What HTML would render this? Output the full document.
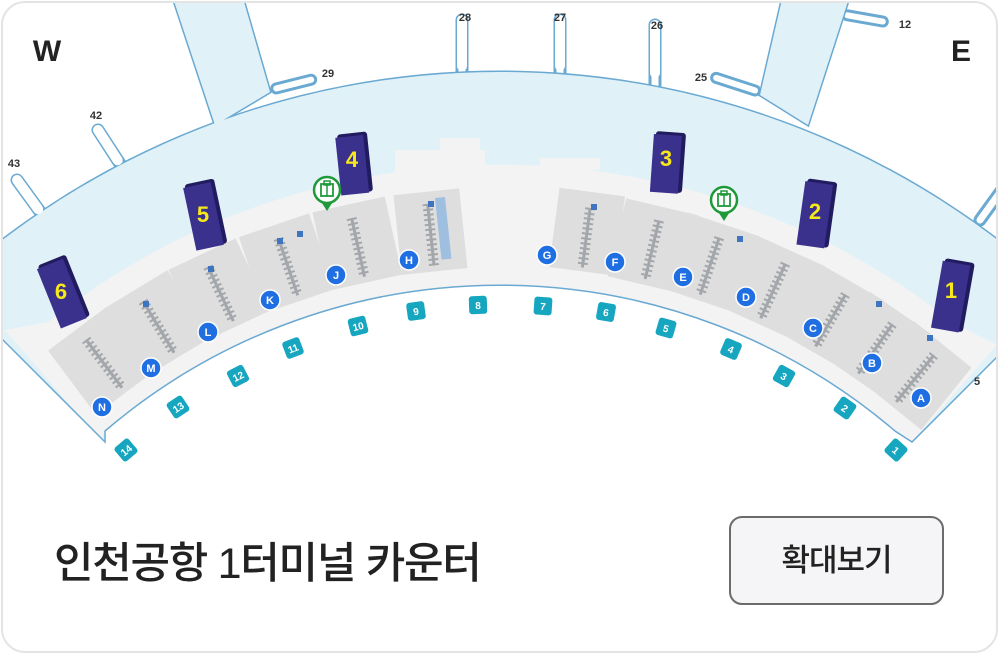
<!DOCTYPE html>
<html><head><meta charset="utf-8">
<style>
html,body{margin:0;padding:0;background:#fff;}
body{width:999px;height:654px;overflow:hidden;position:relative;font-family:"Liberation Sans","Noto Sans CJK KR",sans-serif;}
.card{position:absolute;left:1px;top:1px;width:997px;height:652px;box-sizing:border-box;border:2px solid #e4e4e4;border-radius:24px;overflow:hidden;background:#fff;}
svg{position:absolute;left:-3px;top:-3px;}
.title{position:absolute;left:51px;top:531px;font-size:43px;line-height:60px;font-weight:500;color:#222;font-family:"Liberation Sans","Noto Sans CJK KR",sans-serif;letter-spacing:-1.3px;white-space:nowrap;}
.btn{position:absolute;left:726px;top:513px;width:215px;height:89px;box-sizing:border-box;border:2px solid #6b6b6b;border-radius:13px;background:#f5f5f7;font-size:31px;font-weight:500;color:#222;text-align:center;line-height:85px;font-family:"Liberation Sans","Noto Sans CJK KR",sans-serif;letter-spacing:-1px;}
</style></head><body>
<div class="card">
<svg width="999" height="654" viewBox="0 0 999 654" xmlns="http://www.w3.org/2000/svg">
<defs>
<clipPath id="map"><rect x="0" y="0" width="999" height="464"/></clipPath>
</defs>
<g clip-path="url(#map)">
<g fill="none" stroke="#6aa9d2" stroke-width="3">
<circle cx="500" cy="893" r="821"/>
<polygon points="172,-5 242,-5 270,92 215,125"/>
<polygon points="783,-5 850,-5 808,125 760,95"/>
<rect x="457" y="15" width="10" height="70" rx="5"/>
<rect x="555" y="15" width="10" height="70" rx="5"/>
<rect x="650" y="20" width="10" height="70" rx="5"/>
<rect x="272" y="85" width="45" height="9" rx="4.5" transform="rotate(-14 272 90)"/>
<rect x="712" y="72" width="50" height="9" rx="4.5" transform="rotate(18 712 76)"/>
<rect x="843" y="10" width="45" height="9" rx="4.5" transform="rotate(10 843 14)"/>
<rect x="93" y="125" width="10" height="60" rx="5" transform="rotate(-33 98 130)"/>
<rect x="12" y="175" width="10" height="60" rx="5" transform="rotate(-36 17 180)"/>
<rect x="975" y="165" width="10" height="60" rx="5" transform="rotate(36 980 220)"/>
</g>
<g fill="#e0f1f8">
<circle cx="500" cy="893" r="821"/>
<polygon points="172,-5 242,-5 270,92 215,125"/>
<polygon points="783,-5 850,-5 808,125 760,95"/>
</g>
<g fill="#fff">
<rect x="457" y="15" width="10" height="56" rx="5"/>
<rect x="555" y="15" width="10" height="56" rx="5"/>
<rect x="650" y="20" width="10" height="58" rx="5"/>
<rect x="93" y="125" width="10" height="46" rx="5" transform="rotate(-33 98 130)"/>
<rect x="12" y="175" width="10" height="46" rx="5" transform="rotate(-36 17 180)"/>
</g>
<path d="M 48 322 A 728 728 0 0 1 952 322 L 997 345 L 912 442 L 895 431 A 608 608 0 0 0 105 431 L 100 440 L 5 330 Z" fill="#f3f3f3"/>
<g fill="#f3f3f3">
<rect x="395" y="150" width="90" height="30"/>
<rect x="440" y="138" width="40" height="20"/>
<rect x="540" y="158" width="60" height="12"/>
</g>
<path d="M -5 332 L 105 442 L 105 431 A 608 608 0 0 1 895 431 L 912 442 L 1004 350 L 1004 480 L -5 480 Z" fill="#fff" stroke="#6aa9d2" stroke-width="1.5"/>
<g fill="#dedede">
<g transform="rotate(-36.8 500 893)"><rect x="463" y="188" width="74" height="80"/></g>
<g transform="rotate(-31.1 500 893)"><rect x="463" y="188" width="74" height="80"/></g>
<g transform="rotate(-25 500 893)"><rect x="463" y="188" width="74" height="80"/></g>
<g transform="rotate(-18.7 500 893)"><rect x="463" y="188" width="74" height="80"/></g>
<g transform="rotate(-12.4 500 893)"><rect x="463" y="188" width="74" height="80"/></g>
<g transform="rotate(-6 500 893)"><rect x="467" y="188" width="66" height="80"/></g>
<g transform="rotate(7.5 500 893)"><rect x="467" y="186" width="66" height="80"/></g>
<g transform="rotate(13.3 500 893)"><rect x="463" y="188" width="74" height="80"/></g>
<g transform="rotate(18.5 500 893)"><rect x="463" y="188" width="74" height="80"/></g>
<g transform="rotate(24.4 500 893)"><rect x="463" y="188" width="74" height="80"/></g>
<g transform="rotate(30 500 893)"><rect x="463" y="188" width="74" height="80"/></g>
<g transform="rotate(34.6 500 893)"><rect x="463" y="188" width="74" height="80"/></g>
<g transform="rotate(38.9 500 893)"><rect x="463" y="188" width="74" height="80"/></g>
</g>
<g stroke="#a3a6aa">
<g transform="rotate(-36.8 500 893)"><line x1="500" y1="202" x2="500" y2="262" stroke-width="10" stroke-dasharray="2 3"/><line x1="500" y1="202" x2="500" y2="262" stroke-width="3"/></g>
<g transform="rotate(-31.1 500 893)"><line x1="500" y1="202" x2="500" y2="262" stroke-width="10" stroke-dasharray="2 3"/><line x1="500" y1="202" x2="500" y2="262" stroke-width="3"/></g>
<g transform="rotate(-25 500 893)"><line x1="500" y1="202" x2="500" y2="262" stroke-width="10" stroke-dasharray="2 3"/><line x1="500" y1="202" x2="500" y2="262" stroke-width="3"/></g>
<g transform="rotate(-18.7 500 893)"><line x1="500" y1="202" x2="500" y2="262" stroke-width="10" stroke-dasharray="2 3"/><line x1="500" y1="202" x2="500" y2="262" stroke-width="3"/></g>
<g transform="rotate(-12.4 500 893)"><line x1="500" y1="202" x2="500" y2="262" stroke-width="10" stroke-dasharray="2 3"/><line x1="500" y1="202" x2="500" y2="262" stroke-width="3"/></g>
<g transform="rotate(-6 500 893)"><line x1="500" y1="200" x2="500" y2="262" stroke-width="10" stroke-dasharray="2 3"/><line x1="500" y1="200" x2="500" y2="262" stroke-width="3"/><rect x="508" y="195" width="10" height="62" fill="#9fbfe0" stroke="none"/></g>
<g transform="rotate(7.5 500 893)"><line x1="500" y1="202" x2="500" y2="262" stroke-width="10" stroke-dasharray="2 3"/><line x1="500" y1="202" x2="500" y2="262" stroke-width="3"/></g>
<g transform="rotate(13.3 500 893)"><line x1="500" y1="202" x2="500" y2="262" stroke-width="10" stroke-dasharray="2 3"/><line x1="500" y1="202" x2="500" y2="262" stroke-width="3"/></g>
<g transform="rotate(18.5 500 893)"><line x1="500" y1="202" x2="500" y2="262" stroke-width="10" stroke-dasharray="2 3"/><line x1="500" y1="202" x2="500" y2="262" stroke-width="3"/></g>
<g transform="rotate(24.4 500 893)"><line x1="500" y1="202" x2="500" y2="262" stroke-width="10" stroke-dasharray="2 3"/><line x1="500" y1="202" x2="500" y2="262" stroke-width="3"/></g>
<g transform="rotate(30 500 893)"><line x1="500" y1="202" x2="500" y2="262" stroke-width="10" stroke-dasharray="2 3"/><line x1="500" y1="202" x2="500" y2="262" stroke-width="3"/></g>
<g transform="rotate(34.6 500 893)"><line x1="500" y1="202" x2="500" y2="262" stroke-width="10" stroke-dasharray="2 3"/><line x1="500" y1="202" x2="500" y2="262" stroke-width="3"/></g>
<g transform="rotate(38.9 500 893)"><line x1="500" y1="202" x2="500" y2="262" stroke-width="10" stroke-dasharray="2 3"/><line x1="500" y1="202" x2="500" y2="262" stroke-width="3"/></g>
</g>
<g fill="#3f74c0">
<rect x="143" y="301" width="6" height="6"/><rect x="208" y="266" width="6" height="6"/>
<rect x="277" y="238" width="6" height="6"/><rect x="297" y="231" width="6" height="6"/>
<rect x="428" y="201" width="6" height="6"/><rect x="591" y="204" width="6" height="6"/>
<rect x="737" y="236" width="6" height="6"/><rect x="876" y="301" width="6" height="6"/>
<rect x="927" y="335" width="6" height="6"/>
</g>
<g>
<g transform="translate(63 291) rotate(-22)"><rect x="-14" y="-33" width="30" height="66" rx="3" fill="#211b60"/><rect x="-16" y="-30" width="28" height="64" fill="#3a318c"/><text x="-2" y="8" font-size="22" font-weight="bold" fill="#f7e81c" text-anchor="middle" font-family="Liberation Sans,sans-serif" transform="rotate(22)">6</text></g>
<g transform="translate(205 214) rotate(-12)"><rect x="-14" y="-33" width="30" height="66" rx="3" fill="#211b60"/><rect x="-16" y="-30" width="28" height="64" fill="#3a318c"/><text x="-2" y="8" font-size="22" font-weight="bold" fill="#f7e81c" text-anchor="middle" font-family="Liberation Sans,sans-serif" transform="rotate(12)">5</text></g>
<g transform="translate(354 163) rotate(-6)"><rect x="-14" y="-30" width="30" height="60" rx="3" fill="#211b60"/><rect x="-16" y="-27" width="28" height="58" fill="#3a318c"/><text x="-2" y="4" font-size="22" font-weight="bold" fill="#f7e81c" text-anchor="middle" font-family="Liberation Sans,sans-serif" transform="rotate(6)">4</text></g>
<g transform="translate(668 162) rotate(4)"><rect x="-14" y="-30" width="30" height="60" rx="3" fill="#211b60"/><rect x="-16" y="-27" width="28" height="58" fill="#3a318c"/><text x="-2" y="4" font-size="22" font-weight="bold" fill="#f7e81c" text-anchor="middle" font-family="Liberation Sans,sans-serif" transform="rotate(-4)">3</text></g>
<g transform="translate(817 213) rotate(8)"><rect x="-14" y="-33" width="30" height="66" rx="3" fill="#211b60"/><rect x="-16" y="-30" width="28" height="64" fill="#3a318c"/><text x="-2" y="6" font-size="22" font-weight="bold" fill="#f7e81c" text-anchor="middle" font-family="Liberation Sans,sans-serif" transform="rotate(-8)">2</text></g>
<g transform="translate(953 295) rotate(10)"><rect x="-14" y="-35" width="30" height="70" rx="3" fill="#211b60"/><rect x="-16" y="-32" width="28" height="68" fill="#3a318c"/><text x="-2" y="3" font-size="22" font-weight="bold" fill="#f7e81c" text-anchor="middle" font-family="Liberation Sans,sans-serif" transform="rotate(-10)">1</text></g>
</g>
<g>
<g transform="translate(327 190)"><path d="M -7 10 L 0 21 L 7 10 Z" fill="#1f9a3a"/><circle r="13" fill="#fff" stroke="#1f9a3a" stroke-width="2.5"/><rect x="-6" y="-6" width="12" height="12" fill="none" stroke="#1f9a3a" stroke-width="1.8"/><rect x="-3" y="-9" width="6" height="4" fill="none" stroke="#1f9a3a" stroke-width="1.5"/><line x1="0" y1="-6" x2="0" y2="6" stroke="#1f9a3a" stroke-width="1.5"/></g>
<g transform="translate(724 200)"><path d="M -7 10 L 0 21 L 7 10 Z" fill="#1f9a3a"/><circle r="13" fill="#fff" stroke="#1f9a3a" stroke-width="2.5"/><rect x="-6" y="-6" width="12" height="12" fill="none" stroke="#1f9a3a" stroke-width="1.8"/><rect x="-3" y="-9" width="6" height="4" fill="none" stroke="#1f9a3a" stroke-width="1.5"/><line x1="0" y1="-6" x2="0" y2="6" stroke="#1f9a3a" stroke-width="1.5"/></g>
</g>
<g font-family="Liberation Sans,sans-serif" font-size="11" font-weight="bold" fill="#fff" text-anchor="middle">
<g><circle cx="102" cy="407" r="10" fill="#1f6fe3" stroke="#fff" stroke-width="1.5"/><text x="102" y="411">N</text></g>
<g><circle cx="151" cy="368" r="10" fill="#1f6fe3" stroke="#fff" stroke-width="1.5"/><text x="151" y="372">M</text></g>
<g><circle cx="208" cy="332" r="10" fill="#1f6fe3" stroke="#fff" stroke-width="1.5"/><text x="208" y="336">L</text></g>
<g><circle cx="270" cy="300" r="10" fill="#1f6fe3" stroke="#fff" stroke-width="1.5"/><text x="270" y="304">K</text></g>
<g><circle cx="336" cy="275" r="10" fill="#1f6fe3" stroke="#fff" stroke-width="1.5"/><text x="336" y="279">J</text></g>
<g><circle cx="409" cy="260" r="10" fill="#1f6fe3" stroke="#fff" stroke-width="1.5"/><text x="409" y="264">H</text></g>
<g><circle cx="547" cy="255" r="10" fill="#1f6fe3" stroke="#fff" stroke-width="1.5"/><text x="547" y="259">G</text></g>
<g><circle cx="615" cy="262" r="10" fill="#1f6fe3" stroke="#fff" stroke-width="1.5"/><text x="615" y="266">F</text></g>
<g><circle cx="683" cy="277" r="10" fill="#1f6fe3" stroke="#fff" stroke-width="1.5"/><text x="683" y="281">E</text></g>
<g><circle cx="746" cy="297" r="10" fill="#1f6fe3" stroke="#fff" stroke-width="1.5"/><text x="746" y="301">D</text></g>
<g><circle cx="813" cy="328" r="10" fill="#1f6fe3" stroke="#fff" stroke-width="1.5"/><text x="813" y="332">C</text></g>
<g><circle cx="872" cy="363" r="10" fill="#1f6fe3" stroke="#fff" stroke-width="1.5"/><text x="872" y="367">B</text></g>
<g><circle cx="921" cy="398" r="10" fill="#1f6fe3" stroke="#fff" stroke-width="1.5"/><text x="921" y="402">A</text></g>
</g>
<g font-family="Liberation Sans,sans-serif" font-size="10" font-weight="bold" fill="#fff" text-anchor="middle">
<g transform="translate(126 450) rotate(-40)"><rect x="-9" y="-9" width="18" height="18" rx="3" fill="#16a6bf"/><text y="4">14</text></g>
<g transform="translate(178 407) rotate(-33.5)"><rect x="-9" y="-9" width="18" height="18" rx="3" fill="#16a6bf"/><text y="4">13</text></g>
<g transform="translate(238 376) rotate(-27)"><rect x="-9" y="-9" width="18" height="18" rx="3" fill="#16a6bf"/><text y="4">12</text></g>
<g transform="translate(293 348) rotate(-21)"><rect x="-9" y="-9" width="18" height="18" rx="3" fill="#16a6bf"/><text y="4">11</text></g>
<g transform="translate(358 326) rotate(-14)"><rect x="-9" y="-9" width="18" height="18" rx="3" fill="#16a6bf"/><text y="4">10</text></g>
<g transform="translate(416 311) rotate(-8)"><rect x="-9" y="-9" width="18" height="18" rx="3" fill="#16a6bf"/><text y="4">9</text></g>
<g transform="translate(478 305) rotate(-2)"><rect x="-9" y="-9" width="18" height="18" rx="3" fill="#16a6bf"/><text y="4">8</text></g>
<g transform="translate(543 306) rotate(4)"><rect x="-9" y="-9" width="18" height="18" rx="3" fill="#16a6bf"/><text y="4">7</text></g>
<g transform="translate(606 312) rotate(10)"><rect x="-9" y="-9" width="18" height="18" rx="3" fill="#16a6bf"/><text y="4">6</text></g>
<g transform="translate(666 328) rotate(16)"><rect x="-9" y="-9" width="18" height="18" rx="3" fill="#16a6bf"/><text y="4">5</text></g>
<g transform="translate(731 349) rotate(23)"><rect x="-9" y="-9" width="18" height="18" rx="3" fill="#16a6bf"/><text y="4">4</text></g>
<g transform="translate(784 376) rotate(29)"><rect x="-9" y="-9" width="18" height="18" rx="3" fill="#16a6bf"/><text y="4">3</text></g>
<g transform="translate(845 408) rotate(35)"><rect x="-9" y="-9" width="18" height="18" rx="3" fill="#16a6bf"/><text y="4">2</text></g>
<g transform="translate(896 450) rotate(42)"><rect x="-9" y="-9" width="18" height="18" rx="3" fill="#16a6bf"/><text y="4">1</text></g>
</g>
<g font-family="Liberation Sans,sans-serif" font-size="11" fill="#333" text-anchor="middle" font-weight="bold">
<text x="465" y="21">28</text><text x="560" y="21">27</text><text x="657" y="29">26</text>
<text x="701" y="81">25</text><text x="328" y="77">29</text><text x="96" y="119">42</text>
<text x="14" y="167">43</text><text x="905" y="28">12</text><text x="977" y="385">5</text>
</g>
<g font-family="Liberation Sans,sans-serif" font-size="30" font-weight="bold" fill="#222" text-anchor="middle">
<text x="47" y="61">W</text><text x="961" y="61">E</text>
</g>
</g>
</svg>
<div class="title">인천공항 1터미널 카운터</div>
<div class="btn">확대보기</div>
</div>
</body></html>
